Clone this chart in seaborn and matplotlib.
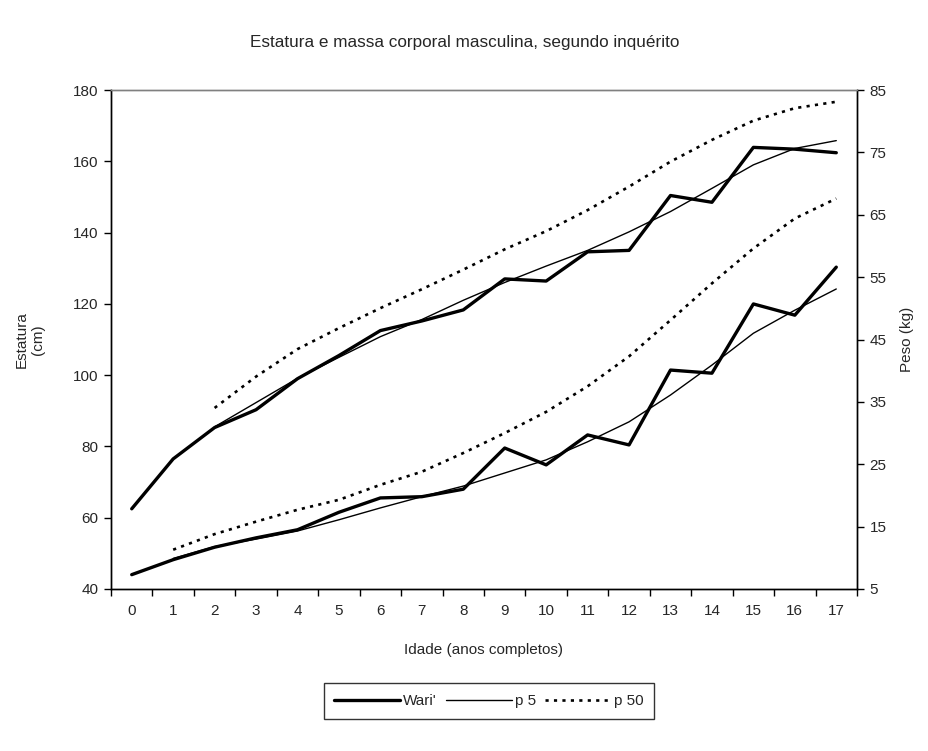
import matplotlib

matplotlib.use("Agg")
import matplotlib.pyplot as plt
import numpy as np
import pandas as pd
import seaborn as sns

# ages 0..17 (anos completos)
AGES = list(range(18))

# stature (cm), left axis
HEIGHT_WARI = [62.5, 76.5, 85.3, 90.3, 99.0, 105.5, 112.5, 115.2, 118.3,
               127.0, 126.4, 134.6, 135.0, 150.4, 148.5, 163.9, 163.4, 162.4]
HEIGHT_P5 = [None, None, 85.5, 92.3, 99.1, 105.0, 110.8, 115.6, 121.0,
             126.0, 130.6, 135.0, 140.2, 145.9, 152.4, 159.0, 163.6, 165.8]
HEIGHT_P50 = [None, None, 90.8, 99.6, 107.3, 113.2, 118.8, 124.1, 129.6,
              135.3, 140.4, 146.3, 152.9, 159.9, 166.0, 171.4, 174.9, 176.7]

# body mass (kg), right axis
WEIGHT_WARI = [7.3, 9.7, 11.7, 13.2, 14.5, 17.3, 19.6, 19.8, 21.0,
               27.6, 24.9, 29.7, 28.1, 40.1, 39.6, 50.7, 48.9, 56.6]
WEIGHT_P5 = [None, 9.9, 11.8, 13.0, 14.3, 16.1, 18.0, 19.8, 21.5,
             23.6, 25.7, 28.6, 31.8, 36.1, 40.9, 46.0, 49.7, 53.1]
WEIGHT_P50 = [None, 11.3, 13.8, 15.8, 17.7, 19.3, 21.7, 23.8, 26.8,
              30.0, 33.4, 37.5, 42.3, 48.1, 54.0, 59.6, 64.4, 67.6]

SERIES = ["Wari'", "p 5", "p 50"]
STYLES = {
    "Wari'": dict(color="black", lw=2.4, linestyle="-"),
    "p 5": dict(color="black", lw=1.0, linestyle="-"),
    "p 50": dict(color="black", lw=1.9, linestyle=(0, (1.2, 2.0))),
}

sns.set_style("white")
plt.rcParams["font.family"] = ["Liberation Sans", "DejaVu Sans"]
plt.rcParams["font.size"] = 11

height_df = pd.DataFrame({"idade": AGES, "Wari'": HEIGHT_WARI,
                          "p 5": HEIGHT_P5, "p 50": HEIGHT_P50}).astype(float)
weight_df = pd.DataFrame({"idade": AGES, "Wari'": WEIGHT_WARI,
                          "p 5": WEIGHT_P5, "p 50": WEIGHT_P50}).astype(float)

fig = plt.figure(figsize=(9.29, 7.51), dpi=100)
ax = fig.add_axes([111 / 929, 1 - 589 / 751, (857 - 111) / 929, (589 - 90) / 751])
ax2 = ax.twinx()

for name in SERIES:
    st = STYLES[name]
    sns.lineplot(data=height_df, x="idade", y=name, ax=ax, label=name,
                 color=st["color"], linewidth=st["lw"], legend=False)
    ax.lines[-1].set_linestyle(st["linestyle"])
    sns.lineplot(data=weight_df, x="idade", y=name, ax=ax2,
                 color=st["color"], linewidth=st["lw"], legend=False)
    ax2.lines[-1].set_linestyle(st["linestyle"])

ax.set_xlim(-0.5, 17.5)
ax.set_ylim(40, 180)
ax.set_yticks(np.arange(40, 181, 20))
ax2.set_ylim(5, 85)
ax2.set_yticks(np.arange(5, 86, 10))

# category axis: labels at the centres, tick marks between categories
ax.set_xticks(AGES)
ax.set_xticks(np.arange(-0.5, 18, 1), minor=True)
ax.tick_params(axis="x", which="major", length=0, pad=11)
ax.tick_params(axis="x", which="minor", length=5, width=1, color="black",
               direction="out", bottom=True)
ax.tick_params(axis="y", length=5, width=1, color="black", direction="out",
               left=True, pad=4)
ax2.tick_params(axis="y", length=5, width=1, color="black", direction="out",
                right=True, pad=4)

for a in (ax, ax2):
    for side in ("left", "right", "bottom"):
        a.spines[side].set_color("black")
        a.spines[side].set_linewidth(1.0)
    a.spines["top"].set_color("#808080")
    a.spines["top"].set_linewidth(1.0)

ax.set_xlabel("Idade (anos completos)", labelpad=18)
ax.set_ylabel("Estatura\n(cm)", labelpad=20)
ax2.set_ylabel("Peso (kg)", labelpad=10)

fig.text(0.5, 1 - 42 / 751, "Estatura e massa corporal masculina, segundo inquérito",
         ha="center", va="center", fontsize=12.3)

handles = ax.get_lines()[:3]
leg = fig.legend(handles, SERIES, loc="center", ncol=3,
                 bbox_to_anchor=(489 / 929, 1 - 701 / 751), frameon=True,
                 fancybox=False, handlelength=4.3, handletextpad=0.2,
                 columnspacing=0.6, borderpad=0.7, fontsize=11)
leg.get_frame().set_edgecolor("black")
leg.get_frame().set_linewidth(1.0)

fig.savefig("out.png", dpi=100)
